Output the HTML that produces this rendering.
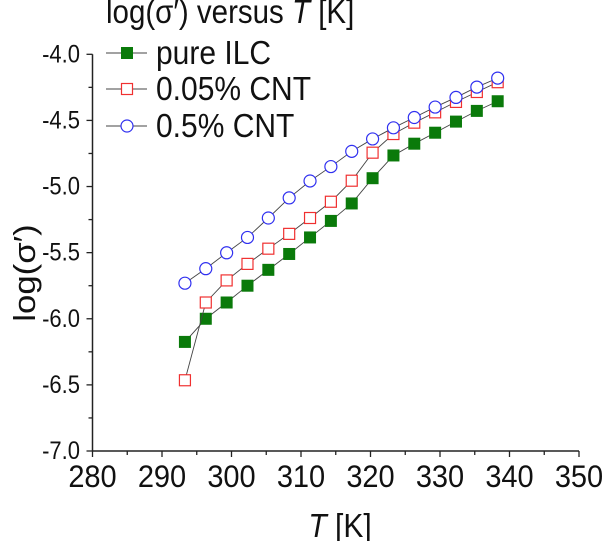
<!DOCTYPE html>
<html><head><meta charset="utf-8"><style>
body{margin:0;background:#fff}
svg{display:block;font-family:"Liberation Sans",Arial,sans-serif}
</style></head><body>
<svg id="chart" width="605" height="541">
<g id="axes"></g><g id="series"></g><g id="legend"></g>
</svg>
<script>
const temps=[293.3,296.3,299.3,302.3,305.3,308.3,311.3,314.3,317.3,320.3,323.3,326.3,329.3,332.3,335.3,338.3];
const pureILC=[-6.175,-6.0,-5.877,-5.75,-5.63,-5.51,-5.385,-5.26,-5.128,-4.937,-4.765,-4.676,-4.593,-4.509,-4.428,-4.355];
const cnt005=[-6.465,-5.877,-5.71,-5.585,-5.47,-5.358,-5.238,-5.115,-4.956,-4.744,-4.603,-4.517,-4.439,-4.36,-4.285,-4.211];
const cnt05=[-5.731,-5.621,-5.501,-5.385,-5.238,-5.086,-4.958,-4.849,-4.734,-4.64,-4.556,-4.478,-4.399,-4.326,-4.248,-4.18];
const xTicks=[280,290,300,310,320,330,340,350];
const yTicks=[-4.0,-4.5,-5.0,-5.5,-6.0,-6.5,-7.0];
const NS="http://www.w3.org/2000/svg";
const X0=92.5,X1=579,Y0=54.3,Y1=451;
const xs=v=>X0+(v-280)/(350-280)*(X1-X0);
const ys=v=>Y0+(-4-v)/3*(Y1-Y0);
function mk(t,a,p){const e=document.createElementNS(NS,t);for(const k in a)e.setAttribute(k,a[k]);(p||document.getElementById('series')).appendChild(e);return e;}
function txt(x,y,size,anchor,p,sy){return mk('text',{x:0,y:0,'font-size':size,'text-anchor':anchor,fill:'#111',transform:`translate(${x},${y}) scale(1,${sy||1.12})`},p);}
const ax=document.getElementById('axes');
let e=mk('line',{x1:X0,y1:Y0,x2:X0,y2:Y1,stroke:'#222','stroke-width':1.5},ax);


e=mk('line',{x1:X0,y1:Y1,x2:X1,y2:Y1,stroke:'#222','stroke-width':1.5},ax);


for(let v=280;v<=350;v+=5){const big=v%10===0;mk('line',{x1:xs(v),y1:Y1,x2:xs(v),y2:Y1+(big?6:4),stroke:'#222','stroke-width':1.3},ax);}
for(let i=0;i<=12;i++){const v=-4-i*0.25;const big=i%2===0;mk('line',{x1:X0,y1:ys(v),x2:X0-(big?6:4),y2:ys(v),stroke:'#222','stroke-width':1.3},ax);}
xTicks.forEach(v=>{const t=txt(xs(v),487,29,'middle',ax,1.1);t.textContent=v;

});
yTicks.forEach(v=>{const t=txt(80,ys(v)+8,22,'end',ax,1.12);t.textContent=v.toFixed(1);

});
e=txt(340,537,30,'middle',ax,1.12);
e.innerHTML='<tspan font-style="italic">T</tspan> [K]';


e=mk('text',{x:0,y:0,'font-size':31,'text-anchor':'middle',fill:'#111',transform:'translate(35,273) rotate(-90) scale(1.12,1)'},ax);
e.textContent='log(σ′)';


function marker(kind,cx,cy,g){
 if(kind==='fill')return mk('rect',{x:cx-5.5,y:cy-5.5,width:11,height:11,fill:'#0a7a0a',stroke:'#0a7a0a'},g);
 if(kind==='sq')return mk('rect',{x:cx-5.5,y:cy-5.5,width:11,height:11,fill:'#fff',stroke:'#f03030','stroke-width':1.2},g);
 return mk('circle',{cx:cx,cy:cy,r:6,fill:'#fff',stroke:'#3030f0','stroke-width':1.2},g);
}
const series=[[pureILC,'fill','series-pure-ilc'],[cnt005,'sq','series-0-05-cnt'],[cnt05,'circ','series-0-5-cnt']];
series.forEach(([vals,kind,name])=>{
 const g=mk('g',{});
 
 
 mk('polyline',{points:vals.map((v,i)=>xs(temps[i])+','+ys(v)).join(' '),fill:'none',stroke:'#444','stroke-width':0.9},g);
 vals.forEach((v,i)=>{const m=marker(kind,xs(temps[i]),ys(v),g);
  
  });
});
const lg=document.getElementById('legend');


e=txt(106,23,29.5,'start',lg,1.12);
e.innerHTML='log(σ′) versus <tspan font-style="italic">T</tspan> [K]';


[['pure ILC','fill',53],['0.05% CNT','sq',89],['0.5% CNT','circ',126]].forEach(([lab,kind,y])=>{
 const g=mk('g',{},lg);
 
 
 mk('line',{x1:106,y1:y,x2:147,y2:y,stroke:'#444','stroke-width':0.9},g);
 marker(kind,127,y,g);
 const t=txt(156,y+11,30,'start',g,1.12);t.textContent=lab;
});
</script>
</body></html>
